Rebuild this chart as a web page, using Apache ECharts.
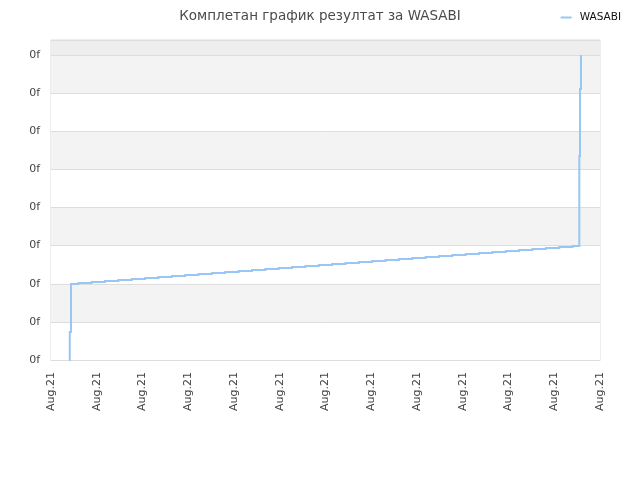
<!DOCTYPE html>
<html>
<head>
<meta charset="utf-8">
<script src="https://cdn.jsdelivr.net/npm/echarts@6/dist/echarts.min.js"></script>
<style>
html,body{margin:0;padding:0;background:#fff;}
#chart{width:640px;height:480px;}
</style>
</head>
<body>
<div id="chart"></div>
<script>
// Data (x in axis-tick units; y in raw units, 38.125 per grid line)
var seriesName = 'WASABI';
var xValues = [0.400, 0.410, 0.437, 0.597, 0.889, 1.181, 1.473, 1.765, 2.057, 2.349, 2.641, 2.933,
  3.225, 3.517, 3.809, 4.101, 4.393, 4.685, 4.977, 5.269, 5.561, 5.853, 6.145, 6.437, 6.729,
  7.021, 7.313, 7.605, 7.897, 8.189, 8.481, 8.773, 9.065, 9.357, 9.649, 9.941, 10.233, 10.525,
  10.817, 11.110, 11.402, 11.548, 11.563, 11.585];
var yValues = [0, 28, 76, 77, 78, 79, 80, 81, 82, 83, 84, 85,
  86, 87, 88, 89, 90, 91, 92, 93, 94, 95, 96, 97, 98,
  99, 100, 101, 102, 103, 104, 105, 106, 107, 108, 109, 110, 111,
  112, 113, 114, 204, 271, 305];
var xTickLabels = ['Aug.21','Aug.21','Aug.21','Aug.21','Aug.21','Aug.21','Aug.21','Aug.21','Aug.21','Aug.21','Aug.21','Aug.21','Aug.21'];
var yTickLabels = ['0f','0f','0f','0f','0f','0f','0f','0f','0f'];
var yStep = 38.125;
var lineColor = '#99c6f4';

var points = xValues.map(function (x, i) { return [x, yValues[i]]; });

// Step line drawn through the axes' scales (value holds until the next change point)
function renderStep(params, api) {
  if (params.dataIndex !== 0) return null;
  var pts = [];
  for (var i = 0; i < xValues.length; i++) {
    if (i > 0) pts.push(api.coord([xValues[i], yValues[i - 1]]));
    pts.push(api.coord([xValues[i], yValues[i]]));
  }
  return {
    type: 'polyline',
    shape: {points: pts},
    style: {stroke: lineColor, lineWidth: 2, fill: null, lineJoin: 'miter'}
  };
}

var chart = echarts.init(document.getElementById('chart'), null, {renderer: 'canvas'});
chart.setOption({
  animation: false,
  backgroundColor: '#ffffff',
  title: {
    text: 'Комплетан график резултат за WASABI',
    left: 'center',
    top: 4,
    textStyle: {fontFamily: 'DejaVu Sans', fontSize: 13.5, fontWeight: 'normal', color: '#4a4a4a'}
  },
  legend: {
    data: [seriesName],
    right: 14,
    top: 7,
    icon: 'rect',
    itemWidth: 11,
    itemHeight: 2,
    itemGap: 5,
    textStyle: {fontFamily: 'DejaVu Sans', fontSize: 10.5, color: '#111111', padding: [0, 0, 0, 3]}
  },
  grid: {
    left: 51, right: 40, top: 40, bottom: 120,
    show: true, borderColor: '#dddddd', borderWidth: 1, containLabel: false
  },
  xAxis: {
    type: 'value',
    min: 0, max: 12, interval: 1,
    axisLine: {show: true, lineStyle: {color: '#dddddd'}},
    axisTick: {show: false},
    splitLine: {show: false},
    axisLabel: {
      rotate: 90, margin: 12,
      fontFamily: 'DejaVu Sans', fontSize: 11, color: '#444444',
      formatter: function (v) { return xTickLabels[Math.round(v)] || ''; }
    }
  },
  yAxis: {
    type: 'value',
    min: 0, max: 320, interval: yStep,
    axisLine: {show: false},
    axisTick: {show: false},
    splitLine: {show: true, lineStyle: {color: '#dddddd', width: 1}},
    splitArea: {show: true, areaStyle: {color: ['#ffffff','#f3f3f3','#ffffff','#f3f3f3','#ffffff','#f3f3f3','#ffffff','#f3f3f3','#eeeeee']}},
    axisLabel: {
      showMaxLabel: false, margin: 11,
      fontFamily: 'DejaVu Sans', fontSize: 11, color: '#444444',
      formatter: function (v) { return yTickLabels[Math.round(v / yStep)] || ''; }
    }
  },
  series: [{
    name: seriesName,
    type: 'custom',
    coordinateSystem: 'cartesian2d',
    encode: {x: 0, y: 1},
    data: points,
    renderItem: renderStep,
    itemStyle: {color: lineColor}
  }]
});
</script>
</body>
</html>
